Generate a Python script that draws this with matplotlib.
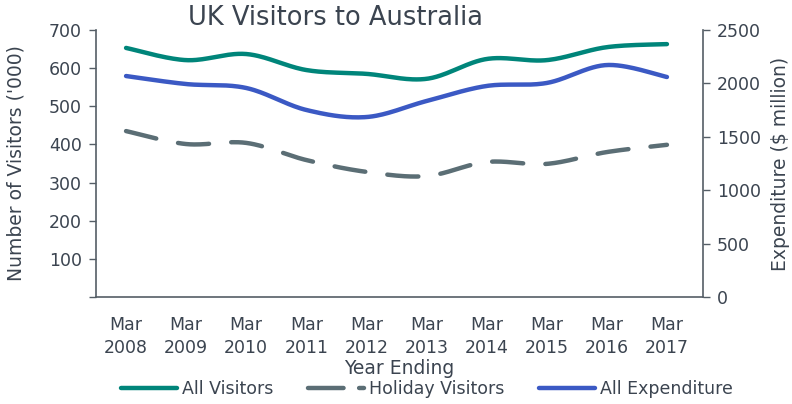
import numpy as np
import matplotlib
matplotlib.use("Agg")
import matplotlib.pyplot as plt
from matplotlib.lines import Line2D

years = ["Mar\n2008", "Mar\n2009", "Mar\n2010", "Mar\n2011", "Mar\n2012",
         "Mar\n2013", "Mar\n2014", "Mar\n2015", "Mar\n2016", "Mar\n2017"]
all_visitors = [653, 621, 637, 595, 585, 572, 624, 621, 655, 663]
holiday_visitors = [435, 401, 404, 359, 328, 317, 354, 349, 380, 399]
all_expenditure = [2069, 1994, 1957, 1751, 1685, 1835, 1976, 2004, 2172, 2060]

TXT = "#3b4450"
plt.rcParams['font.family'] = ['DejaVu Sans']
plt.rcParams['text.color'] = TXT
plt.rcParams['axes.labelcolor'] = TXT
plt.rcParams['xtick.color'] = TXT
plt.rcParams['ytick.color'] = TXT


def smooth(y, n=30):
    # Catmull-Rom style smoothing between data points for display
    y = np.asarray(y, float)
    x = np.arange(len(y), dtype=float)
    P = np.concatenate([[y[0]], y, [y[-1]]])
    X = np.concatenate([[x[0]], x, [x[-1]]])
    xs, ys = [], []
    t = np.linspace(0, 1, n, endpoint=False)
    h00 = 2*t**3 - 3*t**2 + 1
    h10 = t**3 - 2*t**2 + t
    h01 = -2*t**3 + 3*t**2
    h11 = t**3 - t**2
    for i in range(1, len(P) - 2):
        def cr(A):
            a0, a1, a2, a3 = A[i-1], A[i], A[i+1], A[i+2]
            m1 = (a2 - a0) / 2
            m2 = (a3 - a1) / 2
            return h00*a1 + h10*m1 + h01*a2 + h11*m2
        xs.append(cr(X))
        ys.append(cr(P))
    xs.append([x[-1]]); ys.append([y[-1]])
    return np.concatenate(xs), np.concatenate(ys)


fig = plt.figure(figsize=(7.92, 4.04), dpi=100)
ax = fig.add_axes([96/792, 1-297/404, (703-96)/792, (297-30)/404])
ax2 = ax.twinx()

GREEN = "#00857a"
GREY = "#5b6e75"
BLUE = "#3b59c4"
LW = 3.2

xs, ys = smooth(all_visitors)
ax.plot(xs, ys, color=GREEN, lw=LW, solid_capstyle='round')
xs, ys = smooth(holiday_visitors)
ax.plot(xs, ys, color=GREY, lw=LW, dashes=(7, 5), dash_capstyle='round')
xs, ys = smooth(all_expenditure)
ax2.plot(xs, ys, color=BLUE, lw=LW, solid_capstyle='round')

ax.set_xlim(-0.5, 9.6)
ax.set_ylim(0, 700)
ax2.set_ylim(0, 2500)
ax.set_yticks(range(0, 701, 100))
ax.set_yticklabels([""] + [str(v) for v in range(100, 701, 100)])
ax2.set_yticks(range(0, 2501, 500))
ax.set_xticks(range(len(years)))
ax.set_xticklabels(years, fontsize=12.5, linespacing=1.3)
ax.tick_params(axis='x', length=0, pad=14)
ax.tick_params(axis='y', labelsize=12.5, length=5, width=1, color="#555e66", pad=5)
ax2.tick_params(axis='y', labelsize=12.5, length=5, width=1, color="#555e66", pad=5)

for a in (ax, ax2):
    a.spines['top'].set_visible(False)
    for s in ('left', 'right', 'bottom'):
        a.spines[s].set_color("#555e66")
        a.spines[s].set_linewidth(1.2)
ax.spines['right'].set_visible(False)
ax2.spines['left'].set_visible(False)
ax2.spines['bottom'].set_visible(False)

ax.set_ylabel("Number of Visitors ('000)", fontsize=13.5, labelpad=17)
ax2.set_ylabel("Expenditure ($ million)", fontsize=13.5, labelpad=7)
ax.set_xlabel("Year Ending", fontsize=13.5, labelpad=2)

fig.text(336/792, 1-18/404, "UK Visitors to Australia", fontsize=18.5,
         ha='center', va='center', color=TXT)

handles = [
    Line2D([], [], color=GREEN, lw=LW, solid_capstyle='round'),
    Line2D([], [], color=GREY, lw=LW, dashes=(8, 3.5), dash_capstyle='round'),
    Line2D([], [], color=BLUE, lw=LW, solid_capstyle='round'),
]
fig.legend(handles, ["All Visitors", "Holiday Visitors", "All Expenditure"],
           loc='center', bbox_to_anchor=(427/792, 1-389/404), ncol=3,
           frameon=False, fontsize=12.5, handlelength=3.2, handletextpad=0.3,
           columnspacing=2.0)

fig.savefig("out.png", dpi=100)
